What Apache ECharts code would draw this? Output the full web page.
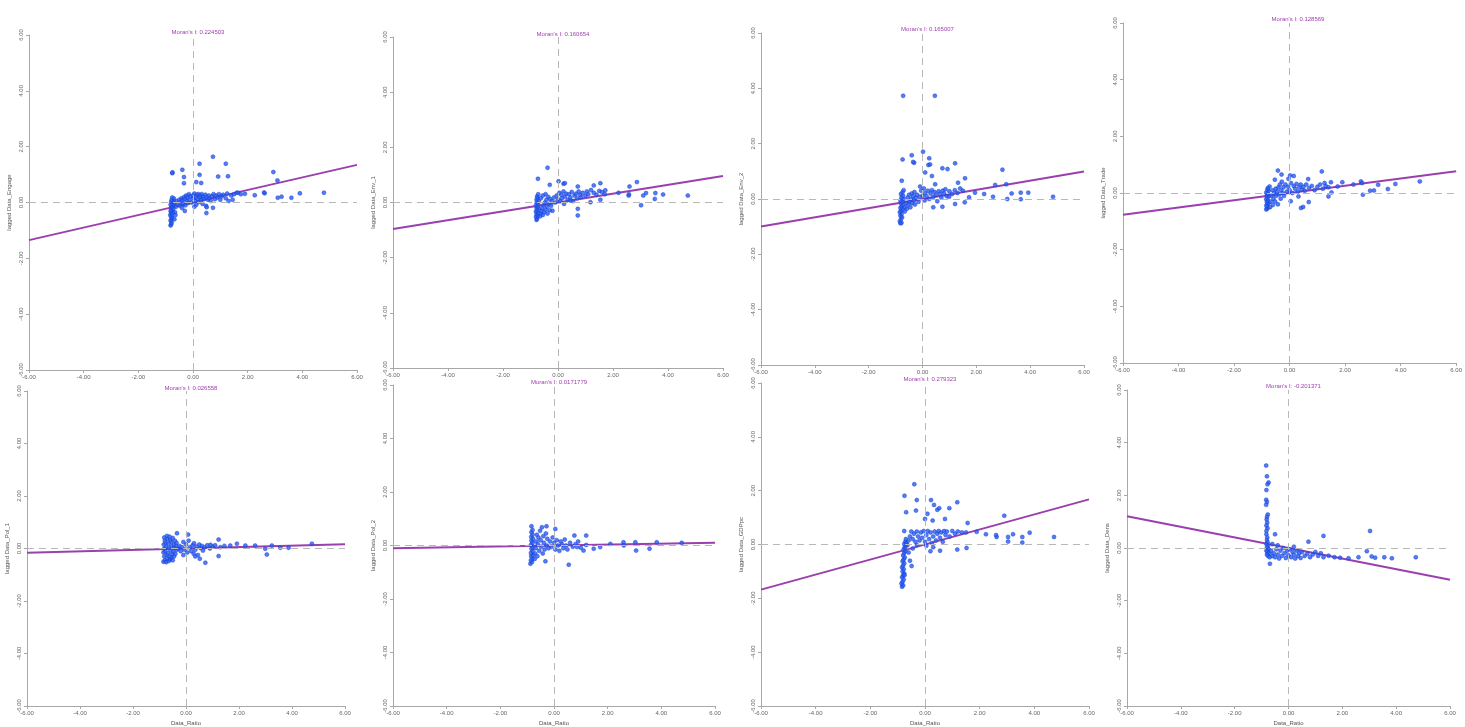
<!DOCTYPE html>
<html>
<head>
<meta charset="utf-8">
<script src="https://cdn.jsdelivr.net/npm/echarts@6/dist/echarts.min.js"></script>
<style>
html,body{margin:0;padding:0;background:#fff;}
#chart{width:1465px;height:727px;}
</style>
</head>
<body>
<div id="chart"></div>
<script>
// ---- data ----
const moranI = [0.224503, 0.160654, 0.165007, 0.128569, 0.026558, 0.0171779, 0.279323, -0.201371];
const yNames = ["lagged Data_Engage", "lagged Data_Env_1", "lagged Data_Env_2", "lagged Data_Trade",
                "lagged Data_Pol_1", "lagged Data_Pol_2", "lagged Data_GDPpc", "lagged Data_Dens"];
const xName = "Data_Ratio";
const tickValues = [-6, -4, -2, 0, 2, 4, 6];

const p1 = [[-0.82,-0.82],[-0.8,-0.78],[-0.78,-0.72],[-0.82,-0.65],[-0.79,-0.6],[-0.76,-0.55],[-0.8,-0.5],[-0.83,-0.45],[-0.77,-0.42],[-0.8,-0.36],[-0.74,-0.33],[-0.82,-0.3],[-0.78,-0.26],[-0.72,-0.22],[-0.8,-0.18],[-0.76,-0.14],[-0.7,-0.1],[-0.82,-0.08],[-0.75,-0.04],[-0.68,-0.02],[-0.8,0.02],[-0.72,0.06],[-0.78,0.1],[-0.7,0.14],[-0.76,0.18],[-0.66,-0.35],[-0.68,-0.6],[-0.64,-0.45],[-0.62,-0.15],
[-0.6,0.05],[-0.55,-0.05],[-0.5,0.1],[-0.48,-0.12],[-0.45,0.02],[-0.42,0.15],[-0.4,-0.2],[-0.38,0.08],[-0.35,-0.06],[-0.32,0.2],[-0.3,0.12],[-0.28,-0.1],[-0.25,0.25],[-0.22,0.05],[-0.2,0.18],[-0.18,-0.02],[-0.15,0.3],[-0.12,0.1],[-0.1,0.22],[-0.05,0.0],[0.0,0.25],[0.02,0.15],[0.05,0.32],[0.08,0.05],[0.1,0.2],[0.12,-0.08],[0.15,0.28],[0.18,0.12],[0.2,0.3],[0.22,0.02],[0.25,0.18],[0.28,0.25],[0.3,0.08],[0.32,0.3],[0.35,-0.05],[0.38,0.2],[0.4,0.12],[0.45,0.28],[0.48,-0.12],[0.5,0.2],[0.55,0.1],[0.58,0.25],[0.6,0.15],[0.65,0.05],[0.7,0.22],[0.75,0.3],[0.8,0.12],[0.85,0.25],[0.9,0.18],[0.95,0.3],[1.0,0.1],[1.05,0.22],[1.1,0.28],[1.2,0.15],[1.25,0.32],[1.3,0.05],[1.4,0.25],[1.5,0.3],[1.6,0.35],[1.65,0.35],[1.75,0.3],[1.9,0.31],
[-0.76,1.05],[-0.75,1.08],[-0.39,1.17],[0.24,1.39],[0.73,1.64],[1.2,1.39],[0.24,0.99],[0.92,0.93],[1.28,0.94],[-0.33,0.91],[-0.33,0.69],[0.12,0.73],[0.3,0.7],[2.94,1.09],[3.09,0.79],[4.79,0.35],[3.91,0.33],[3.6,0.17],[3.24,0.21],[3.1,0.17],[2.62,0.33],[2.26,0.26],[0.49,-0.38],[0.73,-0.19],[0.5,-0.17],[-0.3,-0.3],[0.05,-0.15],[2.6,0.36],[1.45,0.1]];

const p2 = [[-0.78,-0.63],[-0.76,-0.58],[-0.8,-0.52],[-0.74,-0.48],[-0.78,-0.42],[-0.72,-0.38],[-0.8,-0.33],[-0.76,-0.28],[-0.7,-0.24],[-0.78,-0.2],[-0.74,-0.15],[-0.8,-0.1],[-0.72,-0.06],[-0.77,0.0],[-0.7,0.05],[-0.78,0.1],[-0.74,0.16],[-0.76,0.22],[-0.72,0.3],[-0.65,-0.5],[-0.62,-0.4],[-0.6,-0.3],[-0.58,-0.2],[-0.55,-0.45],[-0.52,-0.1],[-0.5,-0.35],[-0.48,0.0],[-0.45,-0.25],[-0.42,0.1],[-0.4,-0.15],[-0.38,-0.4],[-0.35,0.2],[-0.32,-0.05],[-0.3,-0.28],[-0.28,0.12],[-0.25,-0.12],[-0.22,0.05],[-0.2,-0.3],[-0.62,0.15],[-0.55,0.25],[-0.45,0.3],[-0.15,0.18],[-0.1,0.0],[-0.05,0.25],[0.0,0.12],[0.05,0.35],[0.08,0.05],[0.12,0.28],[0.15,0.15],[0.2,0.4],[0.22,-0.05],[0.25,0.22],[0.3,0.32],[0.35,0.1],[0.4,0.3],[0.45,0.18],[0.5,0.38],[0.55,0.05],[0.6,0.25],[0.65,0.32],[0.7,0.15],[0.75,0.4],[0.8,0.28],[0.85,0.2],[0.9,0.35],[1.0,0.25],[1.05,0.4],[1.1,0.3],[1.2,0.45],[1.3,0.35],[1.4,0.28],[1.5,0.42],[1.6,0.38],[1.7,0.3],
[-0.38,1.26],[-0.73,0.86],[-0.3,0.64],[0.02,0.77],[0.2,0.68],[0.72,0.58],[1.54,0.7],[1.3,0.62],[2.87,0.74],[2.6,0.58],[2.57,0.25],[3.02,-0.1],[3.2,0.34],[3.54,0.34],[3.52,0.13],[3.82,0.29],[4.72,0.25],[3.1,0.25],[2.2,0.35],[1.72,0.44],[1.54,0.1],[1.18,0.01],[0.72,-0.23],[0.72,-0.47],[0.45,0.07],[0.25,0.7],[2.58,0.3]];

const p3 = [[-0.82,-0.88],[-0.78,-0.86],[-0.84,-0.8],[-0.8,-0.72],[-0.76,-0.66],[-0.82,-0.6],[-0.78,-0.54],[-0.84,-0.48],[-0.8,-0.42],[-0.74,-0.38],[-0.82,-0.32],[-0.77,-0.27],[-0.72,-0.22],[-0.8,-0.16],[-0.75,-0.1],[-0.82,-0.05],[-0.7,0.0],[-0.78,0.06],[-0.72,0.12],[-0.8,0.18],[-0.74,0.25],[-0.7,0.32],[-0.66,-0.45],[-0.64,-0.3],[-0.6,-0.15],[-0.58,-0.35],[-0.55,0.05],[-0.52,-0.2],[-0.5,0.15],[-0.48,-0.1],[-0.45,-0.3],[-0.42,0.0],[-0.4,0.2],[-0.38,-0.15],[-0.35,0.1],[-0.32,-0.05],[-0.3,0.25],[-0.28,-0.2],[-0.25,0.05],[-0.2,0.15],[-0.15,-0.1],[-0.1,0.08],[-0.05,0.3],[0.0,0.12],[0.05,0.38],[0.08,-0.05],[0.1,0.22],[0.15,0.1],[0.2,0.3],[0.25,0.0],[0.3,0.2],[0.35,0.32],[0.4,0.08],[0.45,0.25],[0.5,0.15],[0.55,-0.08],[0.6,0.28],[0.65,0.18],[0.7,0.05],[0.75,0.3],[0.8,0.2],[0.85,0.35],[0.9,0.1],[1.0,0.28],[1.1,0.18],[1.2,0.32],[1.3,0.22],[1.4,0.38],[1.5,0.3],
[-0.72,3.73],[0.46,3.73],[-0.74,1.43],[-0.4,1.58],[-0.31,1.31],[0.02,1.71],[0.25,1.47],[0.22,1.23],[0.1,0.96],[0.35,0.83],[0.74,1.11],[0.93,1.08],[1.21,1.29],[-0.77,0.66],[0.47,0.53],[1.32,0.59],[1.58,0.75],[-0.09,0.45],[2.97,1.06],[2.7,0.51],[3.11,0.53],[3.31,0.2],[3.65,0.23],[3.93,0.23],[4.85,0.08],[3.65,-0.01],[3.15,0.0],[2.62,0.08],[2.29,0.18],[1.95,0.23],[1.73,0.06],[1.57,-0.12],[1.21,-0.18],[0.74,-0.28],[0.4,-0.3],[0.99,0.08],[-0.35,1.34],[0.28,1.25]];

const p4 = [[-0.84,-0.58],[-0.8,-0.55],[-0.78,-0.5],[-0.84,-0.45],[-0.8,-0.4],[-0.76,-0.36],[-0.82,-0.32],[-0.78,-0.27],[-0.84,-0.22],[-0.8,-0.17],[-0.75,-0.12],[-0.82,-0.08],[-0.78,-0.03],[-0.84,0.02],[-0.76,0.07],[-0.8,0.12],[-0.78,0.18],[-0.72,0.23],[-0.7,-0.5],[-0.68,-0.3],[-0.65,-0.1],[-0.62,0.1],[-0.6,-0.42],[-0.58,-0.2],[-0.55,0.0],[-0.52,-0.3],[-0.5,0.15],[-0.48,-0.1],[-0.45,0.05],[-0.42,-0.4],[-0.4,0.2],[-0.38,-0.05],[-0.35,0.3],[-0.32,-0.2],[-0.3,0.1],[-0.28,0.4],[-0.25,0.0],[-0.22,0.2],[-0.2,-0.1],[-0.15,0.3],[-0.1,0.05],[-0.05,0.22],[0.0,0.1],[0.05,0.35],[0.1,0.0],[0.15,0.25],[0.2,0.15],[0.25,0.32],[0.3,0.05],[0.35,0.2],[0.4,0.3],[0.45,0.12],[0.5,0.22],[0.55,0.08],[0.6,0.3],[0.7,0.18],[0.8,0.25],[0.9,0.1],[1.0,0.22],[1.1,0.3],[1.2,0.15],[1.3,0.25],[1.4,0.2],
[-0.42,0.79],[-0.29,0.65],[0.02,0.62],[-0.04,0.5],[-0.53,0.47],[1.16,0.76],[0.67,0.49],[1.26,0.35],[1.49,0.38],[1.9,0.38],[2.57,0.41],[2.61,0.35],[3.19,0.29],[3.81,0.32],[4.69,0.41],[3.54,0.14],[3.04,0.09],[2.9,0.08],[2.64,-0.06],[1.73,0.23],[1.51,0.02],[1.4,-0.12],[0.69,-0.32],[0.41,-0.53],[0.49,-0.49],[0.04,-0.29],[0.32,-0.12],[0.15,0.6],[2.3,0.3]];

const p5 = [[-0.85,-0.5],[-0.8,-0.45],[-0.75,-0.52],[-0.7,-0.4],[-0.65,-0.48],[-0.6,-0.42],[-0.55,-0.35],[-0.5,-0.45],[-0.82,-0.3],[-0.72,-0.25],[-0.62,-0.3],[-0.52,-0.22],[-0.45,-0.3],[-0.85,-0.15],[-0.78,-0.1],[-0.68,-0.18],[-0.58,-0.08],[-0.48,-0.12],[-0.4,-0.2],[-0.35,-0.05],[-0.82,0.0],[-0.75,0.05],[-0.65,0.02],[-0.55,0.08],[-0.45,0.03],[-0.38,0.1],[-0.3,0.0],[-0.84,0.15],[-0.76,0.2],[-0.66,0.18],[-0.56,0.25],[-0.46,0.15],[-0.36,0.22],[-0.8,0.3],[-0.7,0.35],[-0.6,0.32],[-0.5,0.4],[-0.42,0.3],[-0.82,0.42],[-0.72,0.48],[-0.62,0.45],[-0.25,0.1],[-0.2,-0.1],[-0.15,0.05],[-0.1,0.25],[-0.05,-0.05],[0.0,0.15],[0.05,-0.15],[0.1,0.3],[0.15,0.05],[0.2,-0.1],[0.25,0.12],[0.3,0.2],[0.35,-0.05],[0.4,0.08],[0.45,-0.25],[0.5,0.15],[0.55,0.02],[0.6,0.1],[0.7,0.05],[0.8,0.12],[0.9,0.0],[1.0,0.08],[1.1,0.12],[1.3,0.05],[1.45,0.1],
[-0.34,0.58],[0.08,0.53],[0.73,-0.54],[0.52,-0.39],[1.23,-0.29],[1.23,0.34],[1.92,0.18],[2.24,0.11],[2.61,0.11],[2.99,-0.01],[3.05,-0.23],[3.24,0.11],[3.56,0.03],[3.87,0.03],[4.75,0.18],[1.67,0.11],[0.92,0.14],[0.64,-0.08],[0.29,-0.2],[0.35,-0.3],[-0.1,-0.25]];

const p6 = [[-0.88,-0.68],[-0.82,-0.62],[-0.86,-0.55],[-0.8,-0.48],[-0.85,-0.4],[-0.78,-0.35],[-0.86,-0.28],[-0.8,-0.2],[-0.84,-0.12],[-0.78,-0.05],[-0.86,0.02],[-0.8,0.1],[-0.84,0.18],[-0.78,0.25],[-0.85,0.32],[-0.8,0.4],[-0.84,0.5],[-0.8,0.58],[-0.84,0.72],[-0.72,-0.5],[-0.7,-0.3],[-0.68,-0.1],[-0.66,0.15],[-0.64,0.4],[-0.62,-0.4],[-0.6,0.05],[-0.58,0.3],[-0.55,-0.2],[-0.52,0.55],[-0.5,0.2],[-0.48,-0.05],[-0.45,0.68],[-0.42,-0.3],[-0.4,0.35],[-0.38,0.1],[-0.35,-0.15],[-0.3,0.45],[-0.28,0.0],[-0.25,0.25],[-0.2,-0.1],[-0.15,0.15],[-0.1,-0.05],[-0.05,0.3],[0.0,0.1],[0.05,-0.15],[0.1,0.2],[0.15,0.0],[0.2,-0.2],[0.25,0.15],[0.3,0.05],[0.35,-0.1],[0.4,0.22],[0.45,0.0],[0.5,-0.15],[0.6,0.1],[0.7,-0.05],[0.8,0.05],[0.9,0.15],[1.0,-0.08],[1.2,0.02],
[0.05,0.62],[0.55,-0.72],[-0.32,-0.59],[0.76,0.37],[1.2,0.37],[1.1,-0.19],[1.72,-0.06],[2.1,0.06],[2.59,0.12],[3.03,0.12],[3.06,-0.19],[3.56,-0.12],[3.83,0.12],[4.76,0.1],[1.48,-0.12],[0.86,-0.06],[2.6,0.0],[-0.28,0.72]];

const p7 = [[-0.84,-1.57],[-0.8,-1.52],[-0.86,-1.45],[-0.82,-1.38],[-0.78,-1.3],[-0.84,-1.22],[-0.8,-1.15],[-0.76,-1.08],[-0.82,-1.0],[-0.78,-0.92],[-0.84,-0.85],[-0.8,-0.78],[-0.76,-0.7],[-0.82,-0.62],[-0.78,-0.55],[-0.74,-0.48],[-0.8,-0.4],[-0.76,-0.32],[-0.72,-0.25],[-0.78,-0.18],[-0.74,-0.1],[-0.7,-0.05],[-0.76,0.02],[-0.72,0.1],[-0.68,0.05],[-0.64,-0.02],[-0.7,0.2],[-0.76,0.5],[-0.6,0.15],[-0.55,0.3],[-0.5,0.48],[-0.45,0.2],[-0.4,0.4],[-0.35,0.1],[-0.3,0.48],[-0.25,0.3],[-0.2,0.15],[-0.15,0.45],[-0.1,0.25],[-0.05,0.5],[0.0,0.1],[0.05,0.35],[0.1,0.5],[0.15,0.2],[0.2,0.45],[0.25,0.05],[0.3,0.3],[0.35,0.48],[0.4,0.15],[0.45,0.4],[0.5,0.5],[0.55,0.25],[0.6,0.45],[0.65,0.1],[0.7,0.5],[0.75,0.35],[0.8,0.48],[0.9,0.3],[1.0,0.5],[1.1,0.4],[1.2,0.48],[-0.49,-0.8],[-0.75,-1.14],[-0.55,-0.6],[-0.6,-0.3],[-0.45,-0.15],[-0.3,-0.02],[0.05,-0.05],[0.2,-0.25],[0.3,-0.1],
[-0.39,2.24],[-0.75,1.81],[-0.3,1.65],[0.22,1.65],[-0.69,1.2],[-0.33,1.26],[0.09,1.14],[0.45,1.29],[0.52,1.35],[0.33,1.47],[0.89,1.35],[1.18,1.57],[0.73,0.95],[0.0,0.95],[0.28,0.89],[1.56,0.8],[2.9,1.07],[3.04,0.28],[3.04,0.11],[3.22,0.38],[3.56,0.28],[3.56,0.07],[3.83,0.44],[4.72,0.28],[2.62,0.28],[2.23,0.38],[1.89,0.47],[1.52,-0.13],[1.18,-0.19],[0.55,-0.23],[2.6,0.35],[1.5,0.45],[1.35,0.45]];

const p8 = [[-0.83,3.13],[-0.8,2.72],[-0.74,2.49],[-0.78,2.42],[-0.82,2.2],[-0.83,1.83],[-0.8,1.75],[-0.83,1.64],[-0.77,1.27],[-0.8,1.18],[-0.81,1.08],[-0.79,0.96],[-0.82,0.85],[-0.78,0.75],[-0.82,0.65],[-0.5,0.52],[-0.82,0.52],[-0.79,0.4],[-0.8,0.3],[-0.78,0.22],[-0.82,0.15],[-0.76,0.08],[-0.8,0.02],[-0.74,-0.05],[-0.82,-0.1],[-0.78,-0.15],[-0.72,-0.2],[-0.8,-0.25],[-0.76,-0.3],[-0.69,-0.6],[-0.7,-0.35],[-0.65,-0.1],[-0.6,-0.3],[-0.55,-0.2],[-0.5,-0.35],[-0.45,-0.05],[-0.4,-0.25],[-0.35,-0.4],[-0.3,-0.1],[-0.25,-0.3],[-0.2,0.0],[-0.15,-0.2],[-0.1,-0.38],[-0.05,-0.1],[0.0,-0.28],[0.05,-0.05],[0.1,-0.35],[0.15,-0.15],[0.2,-0.25],[0.25,-0.4],[0.3,-0.1],[0.35,-0.3],[0.4,-0.2],[0.45,-0.38],[0.5,-0.15],[0.6,-0.3],[0.7,-0.22],[0.8,-0.35],[0.9,-0.25],[1.0,-0.15],[1.1,-0.3],[1.2,-0.2],[1.3,-0.35],
[0.74,0.24],[1.3,0.46],[3.03,0.65],[2.91,-0.12],[3.09,-0.32],[3.22,-0.37],[3.56,-0.35],[3.84,-0.39],[4.73,-0.35],[2.6,-0.35],[2.23,-0.39],[1.92,-0.37],[1.71,-0.35],[1.49,-0.29],[-0.6,0.15],[-0.4,0.1],[0.2,0.05]];

const panelData = [p1, p2, p3, p4, p5, p6, p7, p8];

// ---- layout (pixels) ----
const boxes = [
  {left:29,  top:35,  width:328, height:335, tTop:24},
  {left:393, top:37,  width:330, height:331, tTop:26},
  {left:761, top:33,  width:323, height:332, tTop:21},
  {left:1123,top:23,  width:340, height:340, tTop:11},
  {left:27,  top:391, width:318, height:317, tTop:380},
  {left:393, top:385, width:322, height:323, tTop:374},
  {left:761, top:383, width:328, height:329, tTop:371},
  {left:1127,top:390, width:323, height:322, tTop:378}
];

const FONT = 'Liberation Sans, Arial, sans-serif';
const option = {
  animation: false,
  backgroundColor: '#ffffff',
  title: [], grid: [], xAxis: [], yAxis: [], series: []
};

boxes.forEach((b, i) => {
  option.title.push({
    text: "Moran's I: " + moranI[i],
    left: b.left + b.width / 2, top: b.tTop, textAlign: 'center',
    textStyle: {fontSize: 6, fontWeight: 'normal', color: '#a040b0', fontFamily: FONT}
  });
  option.grid.push({left: b.left, top: b.top, width: b.width, height: b.height, containLabel: false});
  const axisCommon = {
    min: -6, max: 6, interval: 2,
    axisLine: {show: true, onZero: false, lineStyle: {color: '#a8a8a8', width: 1}},
    axisTick: {show: true, length: 3, lineStyle: {color: '#a8a8a8'}},
    splitLine: {show: false},
    axisLabel: {fontSize: 6, color: '#666', fontFamily: FONT, formatter: v => v.toFixed(2), showMinLabel: true, showMaxLabel: true}
  };
  option.xAxis.push(Object.assign({}, axisCommon, {
    type: 'value', gridIndex: i, position: 'bottom',
    name: i >= 4 ? xName : '', nameLocation: 'middle', nameGap: 14,
    nameTextStyle: {fontSize: 6, color: '#555', fontFamily: FONT},
    axisLabel: Object.assign({}, axisCommon.axisLabel, {margin: 4})
  }));
  option.yAxis.push(Object.assign({}, axisCommon, {
    type: 'value', gridIndex: i, position: 'left',
    name: yNames[i], nameLocation: 'middle', nameGap: 17, nameRotate: 90,
    nameTextStyle: {fontSize: 6, color: '#555', fontFamily: FONT},
    axisLabel: Object.assign({}, axisCommon.axisLabel, {rotate: 90, margin: 5})
  }));
  const I = moranI[i];
  option.series.push({
    type: 'line', xAxisIndex: i, yAxisIndex: i, silent: true,
    data: [[tickValues[0], tickValues[0] * I], [tickValues[tickValues.length - 1], tickValues[tickValues.length - 1] * I]],
    symbol: 'none', lineStyle: {color: '#9b3fae', width: 2}, z: 3
  });
  option.series.push({
    type: 'scatter', xAxisIndex: i, yAxisIndex: i, silent: true,
    data: panelData[i], symbol: 'circle', symbolSize: 4,
    itemStyle: {color: '#2a5cf0', borderColor: '#1240d8', borderWidth: 0.6},
    z: 4,
    markLine: {
      silent: true, symbol: 'none', animation: false,
      label: {show: false},
      lineStyle: {type: [7, 5], color: '#b8b8b8', width: 1},
      data: [{xAxis: 0}, {yAxis: 0}]
    }
  });
});

const chart = echarts.init(document.getElementById('chart'), null, {renderer: 'canvas'});
chart.setOption(option);
</script>
</body>
</html>
